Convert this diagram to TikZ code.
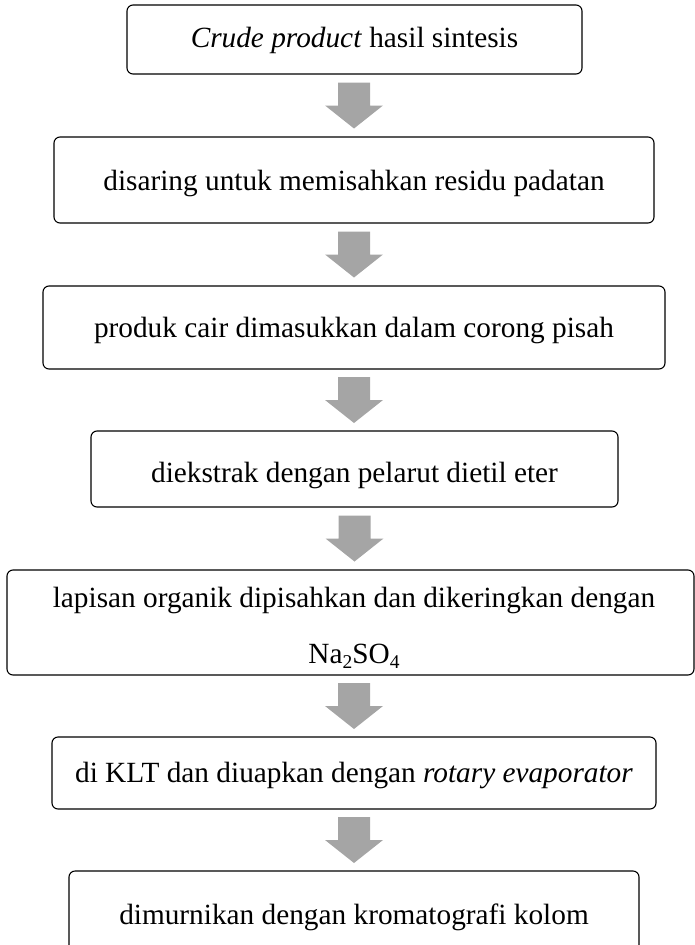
\documentclass[tikz,border=0pt]{standalone}
\usepackage{fontspec}
\setmainfont{Liberation Serif}
\usetikzlibrary{calc}
\definecolor{arrowgray}{HTML}{A5A5A5}
\tikzset{
  stepbox/.style={draw=black, line width=1.1pt, rounded corners=6pt, inner sep=0pt},
  steptext/.style={anchor=base, inner sep=0pt, font=\fontsize{29.3}{35}\selectfont},
  arrowfill/.style={fill=arrowgray, draw=none}
}
\newcommand{\flowarrow}[3]{%
  \coordinate (m#1#2) at ($(#1.south)!0.5!(#2.north)$);
  \fill[arrowfill, shift={(#3 |- m#1#2)}] (-16,-23) -- (16,-23) -- (16,0) -- (29,0) -- (0,23) -- (-29,0) -- (-16,0) -- cycle;
}
\newcommand{\mysub}[1]{\raisebox{-0.2em}{\fontsize{19.5}{20}\selectfont #1}}
\begin{document}
\begin{tikzpicture}[x=1pt, y=-1pt]
\useasboundingbox (0,0) rectangle (695,945);
\clip (0,0) rectangle (695,945);
% boxes
\node[stepbox, minimum width=455pt, minimum height=69pt] (b1) at (354.5,39.5) {};
\node[stepbox, minimum width=600pt, minimum height=86pt] (b2) at (354,180) {};
\node[stepbox, minimum width=622pt, minimum height=83pt] (b3) at (354,327.5) {};
\node[stepbox, minimum width=527pt, minimum height=76pt] (b4) at (354.5,469) {};
\node[stepbox, minimum width=687pt, minimum height=105pt] (b5) at (350.5,622.5) {};
\node[stepbox, minimum width=604pt, minimum height=72pt] (b6) at (354,773) {};
\node[stepbox, minimum width=570pt, minimum height=86pt] (b7) at (354,914) {};
% texts
\node[steptext] (t1) at (354.5,47) {\textit{Crude product} hasil sintesis};
\node[steptext] (t2) at (354,190) {disaring untuk memisahkan residu padatan};
\node[steptext] (t3) at (354,337) {produk cair dimasukkan dalam corong pisah};
\node[steptext] (t4) at (354.5,482) {diekstrak dengan pelarut dietil eter};
\node[steptext] (t5a) at (354,607) {lapisan organik dipisahkan dan dikeringkan dengan};
\node[steptext] (t5b) at (354,663) {Na\mysub{2}SO\mysub{4}};
\node[steptext] (t6) at (354,782) {di KLT dan diuapkan dengan \textit{rotary evaporator}};
\node[steptext] (t7) at (354,924) {dimurnikan dengan kromatografi kolom};
% arrows
\flowarrow{b1}{b2}{b2.north}
\flowarrow{b2}{b3}{b2.south}
\flowarrow{b3}{b4}{b3.south}
\flowarrow{b4}{b5}{b4.south}
\flowarrow{b5}{b6}{b6.north}
\flowarrow{b6}{b7}{b6.south}
\end{tikzpicture}
\end{document}
